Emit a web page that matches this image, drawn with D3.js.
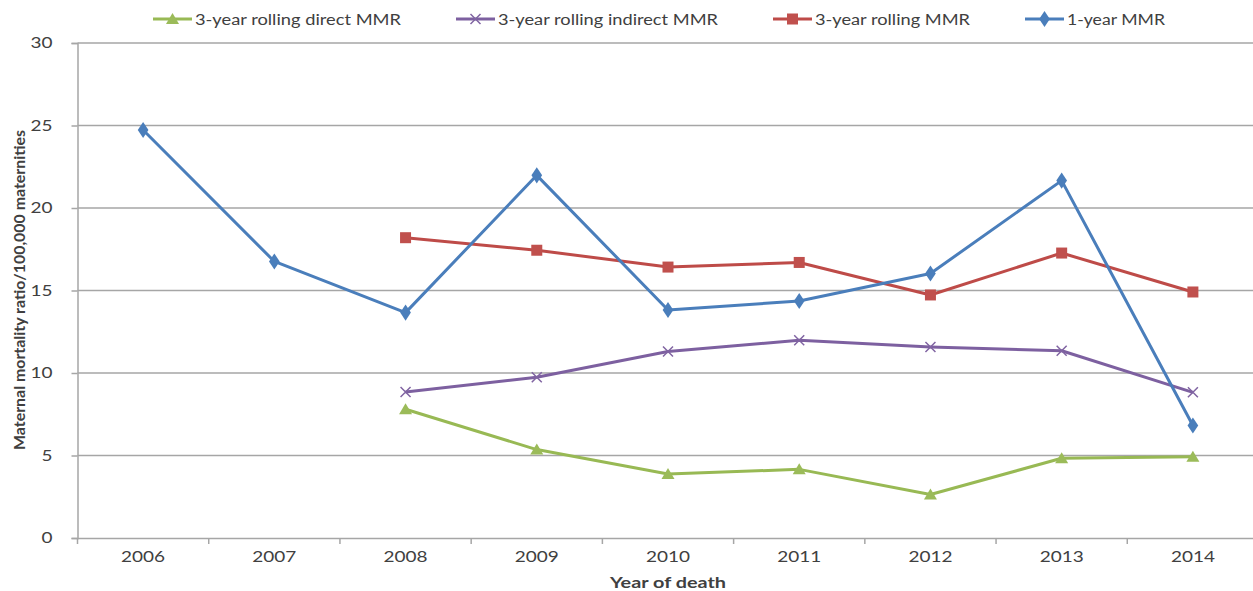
<!DOCTYPE html>
<html><head><meta charset="utf-8">
<script src="https://cdn.jsdelivr.net/npm/d3@7/dist/d3.min.js"></script>
<style>body{margin:0;background:#fff}svg{display:block}text{font-family:Lato,"Open Sans",sans-serif;fill:#404040}</style>
</head><body><svg id="c" width="1253" height="591"></svg>
<script>
const years = ["2006","2007","2008","2009","2010","2011","2012","2013","2014"];
const yTicks = [0,5,10,15,20,25,30];
const direct3 = [null,null,7.8,5.36,3.88,4.16,2.64,4.83,4.93];
const indirect3 = [null,null,8.85,9.74,11.3,11.98,11.58,11.35,8.83];
const rolling3 = [null,null,18.2,17.44,16.42,16.7,14.73,17.27,14.91];
const oneYear = [24.73,16.76,13.66,21.98,13.82,14.36,16.03,21.66,6.82];
const seriesNames = ["3-year rolling direct MMR","3-year rolling indirect MMR","3-year rolling MMR","1-year MMR"];

const series = [
  {name:seriesNames[0], values:direct3, color:"#98B954", marker:"triangle", w:206},
  {name:seriesNames[1], values:indirect3, color:"#7D60A0", marker:"cross", w:220},
  {name:seriesNames[2], values:rolling3, color:"#BE4B48", marker:"square", w:155},
  {name:seriesNames[3], values:oneYear, color:"#4A7EBB", marker:"diamond", w:98}
];

const svg = d3.select("#c");
const L = 77.5, R = 1258.5, T = 43, B = 538;
const x = d3.scaleBand().domain(years).range([L,R]);
const y = d3.scaleLinear().domain([0,30]).range([B,T]);

// gridlines
svg.append("g").selectAll("line").data(yTicks.filter(d=>d>0)).join("line")
  .attr("x1",L).attr("x2",R).attr("y1",d=>y(d)).attr("y2",d=>y(d))
  .attr("stroke","#a6a6a6").attr("stroke-width",1.5);

// y axis
const ya = svg.append("g").attr("transform",`translate(${L},0)`)
  .call(d3.axisLeft(y).tickValues(yTicks).tickSize(6).tickPadding(19));
ya.select(".domain").attr("stroke","#a6a6a6").attr("stroke-width",1.5);
ya.selectAll(".tick line").attr("stroke","#a6a6a6").attr("stroke-width",1.5);
ya.selectAll("text").attr("font-size",15.5).attr("fill","#404040").style("font-family","Lato, sans-serif")
  .attr("textLength",d=>String(d).length*11).attr("lengthAdjust","spacingAndGlyphs");

// x axis
const xa = svg.append("g").attr("transform",`translate(0,${B})`)
  .call(d3.axisBottom(x).tickSize(0).tickPadding(13));
xa.select(".domain").attr("stroke","#a6a6a6").attr("stroke-width",1.5);
xa.selectAll("text").attr("font-size",15.5).attr("fill","#404040").style("font-family","Lato, sans-serif")
  .attr("textLength",44).attr("lengthAdjust","spacingAndGlyphs");
// boundary tick marks
svg.append("g").selectAll("line").data(years.map((d,i)=>i)).join("line")
  .attr("x1",i=>L+i*x.step()).attr("x2",i=>L+i*x.step())
  .attr("y1",B).attr("y2",B+6).attr("stroke","#a6a6a6").attr("stroke-width",1.5);

// axis titles
svg.append("text").attr("x",668).attr("y",588).attr("text-anchor","middle")
  .attr("font-size",15).attr("font-weight","bold").attr("fill","#1a1a1a")
  .attr("textLength",116).attr("lengthAdjust","spacingAndGlyphs").text("Year of death");
svg.append("text").attr("transform","translate(25,290) rotate(-90)").attr("text-anchor","middle")
  .attr("font-size",15).attr("font-weight","bold").attr("fill","#1a1a1a")
  .attr("textLength",320).attr("lengthAdjust","spacingAndGlyphs")
  .text("Maternal mortality ratio/100,000 maternities");

function drawMarker(g, type, color, cx, cy){
  if(type==="diamond"){
    g.append("path").attr("d",d3.symbol(d3.symbolDiamond,75)()).attr("transform",`translate(${cx},${cy}) scale(1.15,1)`).attr("fill",color);
  } else if(type==="square"){
    g.append("rect").attr("x",cx-5.5).attr("y",cy-5.5).attr("width",11).attr("height",11).attr("fill","#C0504D");
  } else if(type==="triangle"){
    g.append("path").attr("d",`M${cx},${cy-6}L${cx+6.5},${cy+5}L${cx-6.5},${cy+5}Z`).attr("fill","#9BBB59");
  } else if(type==="cross"){
    g.append("path").attr("d",`M${cx-5},${cy-5}L${cx+5},${cy+5}M${cx-5},${cy+5}L${cx+5},${cy-5}`).attr("stroke","#8064A2").attr("stroke-width",1.5).attr("fill","none");
  }
}

const line = d3.line().defined(d=>d.v!=null).x(d=>x(d.k)+x.bandwidth()/2).y(d=>y(d.v));
series.forEach(s=>{
  const pts = years.map((k,i)=>({k, v:s.values[i]}));
  const g = svg.append("g");
  g.append("path").datum(pts).attr("d",line).attr("fill","none").attr("stroke",s.color)
    .attr("stroke-width",3).attr("stroke-linejoin","round");
  pts.filter(p=>p.v!=null).forEach(p=>drawMarker(g,s.marker,s.color,x(p.k)+x.bandwidth()/2,y(p.v)));
});

// legend
const legX = [153, 456, 773, 1025];
series.forEach((s,i)=>{
  const g = svg.append("g");
  const lx = legX[i], ly = 19;
  g.append("line").attr("x1",lx).attr("x2",lx+39).attr("y1",ly).attr("y2",ly).attr("stroke",s.color).attr("stroke-width",3);
  drawMarker(g,s.marker,s.color,lx+19.5,ly);
  g.append("text").attr("x",lx+42).attr("y",ly+5.5).attr("font-size",15.5).attr("fill","#404040")
    .attr("textLength",s.w).attr("lengthAdjust","spacingAndGlyphs").text(s.name);
});
</script></body></html>
